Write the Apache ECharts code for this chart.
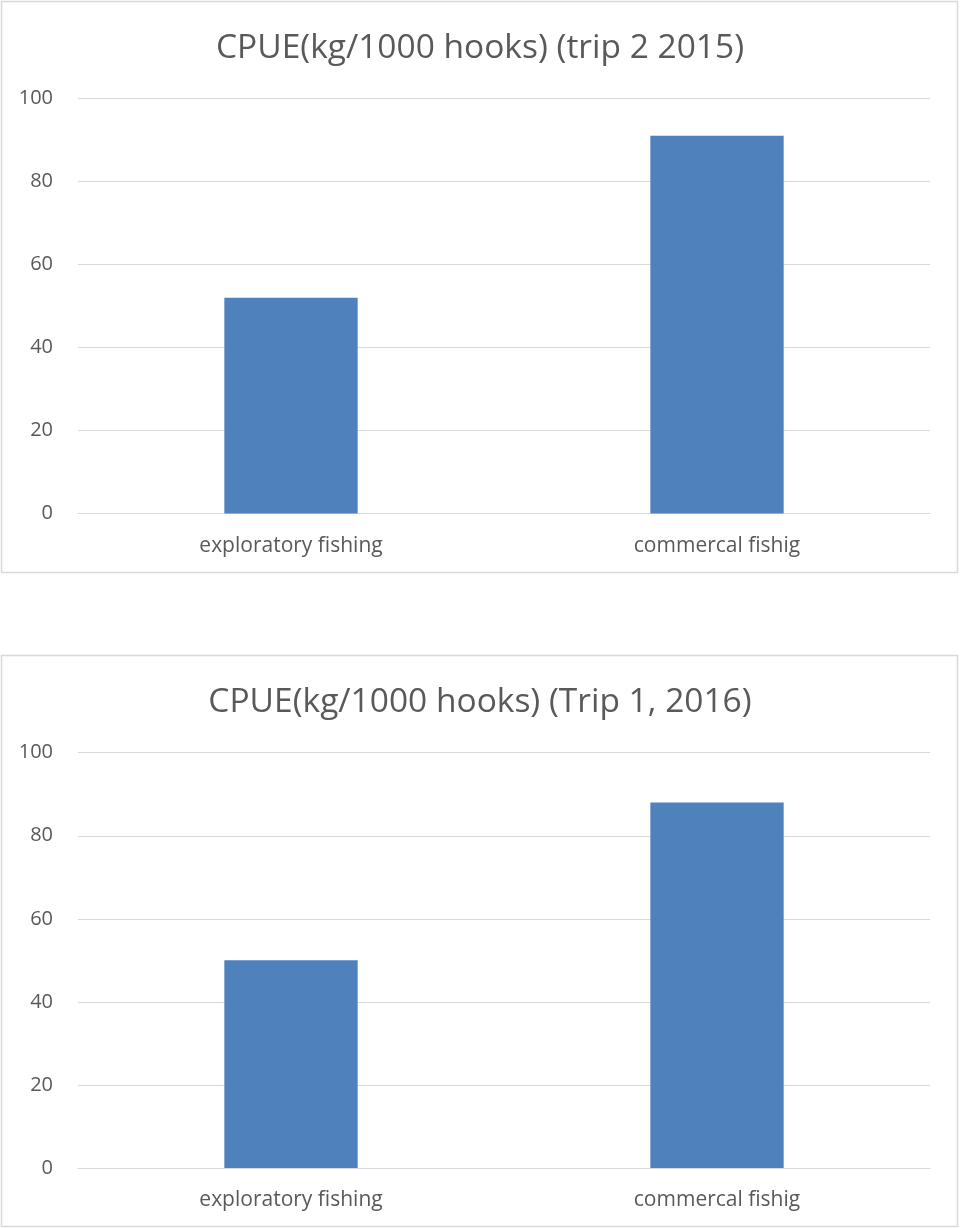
<!DOCTYPE html>
<html>
<head>
<meta charset="utf-8">
<script src="https://cdn.jsdelivr.net/npm/echarts@6/dist/echarts.min.js"></script>
<style>
html,body{margin:0;padding:0;background:#fff;}
#c{width:960px;height:1228px;}
</style>
</head>
<body>
<div id="c"></div>
<script>
var categories = ['exploratory fishing', 'commercal fishig'];
var cpue2015Trip2 = [52, 91];
var cpue2016Trip1 = [50, 88];
var titles = ['CPUE(kg/1000 hooks) (trip 2 2015)', 'CPUE(kg/1000 hooks) (Trip 1, 2016)'];

var FONT = 'Open Sans';
var TXT = '#595959';
var GRID = '#d9d9d9';

function xAx(i){
  return {
    type:'category', gridIndex:i, data:categories,
    axisLine:{show:true, lineStyle:{color:GRID, width:1}},
    axisTick:{show:false},
    axisLabel:{color:TXT, fontSize:21, fontFamily:FONT, margin:22}
  };
}
function yAx(i){
  return {
    type:'value', gridIndex:i, min:0, max:100, interval:20,
    axisLine:{show:false}, axisTick:{show:false},
    splitLine:{lineStyle:{color:GRID, width:1}},
    axisLabel:{color:TXT, fontSize:20, fontFamily:FONT, margin:25}
  };
}
function bar(i, d){
  return {
    type:'bar', xAxisIndex:i, yAxisIndex:i, data:d,
    barWidth:'31.3%',
    itemStyle:{color:'#4f81bd'},
    silent:true
  };
}

var chart = echarts.init(document.getElementById('c'), null, {renderer:'canvas'});
chart.setOption({
  animation:false,
  backgroundColor:'#fff',
  title:[
    {text:titles[0], left:'center', top:26, textStyle:{color:TXT, fontSize:33.5, fontWeight:'normal', fontFamily:FONT}},
    {text:titles[1], left:'center', top:680, textStyle:{color:TXT, fontSize:33.5, fontWeight:'normal', fontFamily:FONT}}
  ],
  graphic:[
    {type:'rect', shape:{x:1.5, y:1.5, width:956, height:571}, style:{fill:'none', stroke:GRID, lineWidth:1.5}, silent:true},
    {type:'rect', shape:{x:1.5, y:655.5, width:956, height:571}, style:{fill:'none', stroke:GRID, lineWidth:1.5}, silent:true}
  ],
  grid:[
    {left:78, width:852, top:98.5, height:415},
    {left:78, width:852, top:752.7, height:415.3}
  ],
  xAxis:[xAx(0), xAx(1)],
  yAxis:[yAx(0), yAx(1)],
  series:[bar(0, cpue2015Trip2), bar(1, cpue2016Trip1)]
});
</script>
</body>
</html>
